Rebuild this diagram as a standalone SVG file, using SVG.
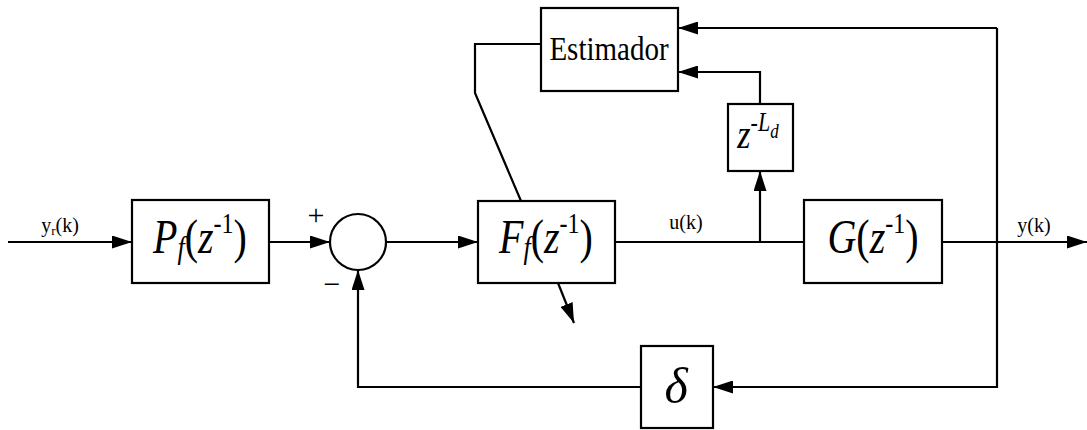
<svg xmlns="http://www.w3.org/2000/svg" width="1087" height="430" viewBox="0 0 1087 430">
<defs>
<marker id="arr" markerUnits="userSpaceOnUse" markerWidth="20" markerHeight="13" refX="20" refY="6.5" orient="auto">
<path d="M0,0 L20,6.5 L0,13 Z" fill="#000"/>
</marker>
</defs>
<style>
.box{fill:#fff;stroke:#000;stroke-width:2.2}
.ln{fill:none;stroke:#000;stroke-width:2.2}
text{font-family:'Liberation Serif','Times New Roman',serif;fill:#000}
.i{font-style:italic}
</style>
<rect width="1087" height="430" fill="#fff"/>
<g id="connectors">
<path class="ln" d="M8,242 H132" marker-end="url(#arr)"/>
<path class="ln" d="M269,242 H330" marker-end="url(#arr)"/>
<path class="ln" d="M386,242 H478" marker-end="url(#arr)"/>
<path class="ln" d="M615,242 H804"/>
<path class="ln" d="M760,242 V171" marker-end="url(#arr)"/>
<path class="ln" d="M760,104 V72 H678" marker-end="url(#arr)"/>
<path class="ln" d="M942,242 H1087" marker-end="url(#arr)"/>
<path class="ln" d="M997,28 H678" marker-end="url(#arr)"/>
<path class="ln" d="M997,28 V387 H713" marker-end="url(#arr)"/>
<path class="ln" d="M641,387 H358 V270" marker-end="url(#arr)"/>
<path class="ln" d="M541,44 H475 V93 L521,201"/>
<path class="ln" d="M558,283 L574,323" marker-end="url(#arr)"/>
</g>
<g id="labels">
<text x="60" y="232" font-size="20" text-anchor="middle" font-family="Liberation Serif, serif">y<tspan font-size="13" dy="3">r</tspan><tspan dy="-3">(k)</tspan></text>
<text x="686" y="229" font-size="20" text-anchor="middle" font-family="Liberation Serif, serif">u(k)</text>
<text x="1034" y="232" font-size="20" text-anchor="middle" font-family="Liberation Serif, serif">y(k)</text>
<text x="316" y="225" font-size="30" text-anchor="middle" font-family="Liberation Sans, sans-serif">+</text>
<text x="332" y="294" font-size="30" text-anchor="middle" font-family="Liberation Sans, sans-serif">−</text>
</g>
<g id="Pf">
<rect class="box" x="132" y="200" width="137" height="83"/>
<text transform="translate(200,253) scale(1,1.2)" font-size="40" text-anchor="middle" font-family="Liberation Serif, serif"><tspan class="i">P</tspan><tspan class="i" font-size="26" dy="4">f</tspan><tspan dy="-4">(</tspan><tspan class="i">z</tspan><tspan font-size="24" dy="-17">-1</tspan><tspan dy="17">)</tspan></text>
</g>
<g id="sum">
<circle class="box" cx="358" cy="242" r="28"/>
</g>
<g id="Ff">
<rect class="box" x="478" y="201" width="137" height="82"/>
<text transform="translate(546,253) scale(1,1.2)" font-size="40" text-anchor="middle" font-family="Liberation Serif, serif"><tspan class="i">F</tspan><tspan class="i" font-size="26" dy="4">f</tspan><tspan dy="-4">(</tspan><tspan class="i">z</tspan><tspan font-size="24" dy="-17">-1</tspan><tspan dy="17">)</tspan></text>
</g>
<g id="G">
<rect class="box" x="804" y="200" width="138" height="83"/>
<text transform="translate(873,253) scale(1,1.2)" font-size="40" text-anchor="middle" font-family="Liberation Serif, serif"><tspan class="i">G</tspan>(<tspan class="i">z</tspan><tspan font-size="24" dy="-17">-1</tspan><tspan dy="17">)</tspan></text>
</g>
<g id="Estimador">
<rect class="box" x="541" y="8" width="137" height="83"/>
<text transform="translate(609,60) scale(1,1.15)" font-size="29" text-anchor="middle" font-family="Liberation Serif, serif">Estimador</text>
</g>
<g id="delay">
<rect class="box" x="728" y="104" width="65" height="67"/>
<text transform="translate(758,148) scale(1,1.2)" font-size="34" text-anchor="middle" font-family="Liberation Serif, serif"><tspan class="i">z</tspan><tspan font-size="22" dy="-14">-</tspan><tspan class="i" font-size="22">L</tspan><tspan class="i" font-size="17" dy="6">d</tspan></text>
</g>
<g id="delta">
<rect class="box" x="641" y="346" width="72" height="82"/>
<text class="i" x="676" y="403" font-size="50" text-anchor="middle" font-family="Liberation Serif, serif">δ</text>
</g>
</svg>
